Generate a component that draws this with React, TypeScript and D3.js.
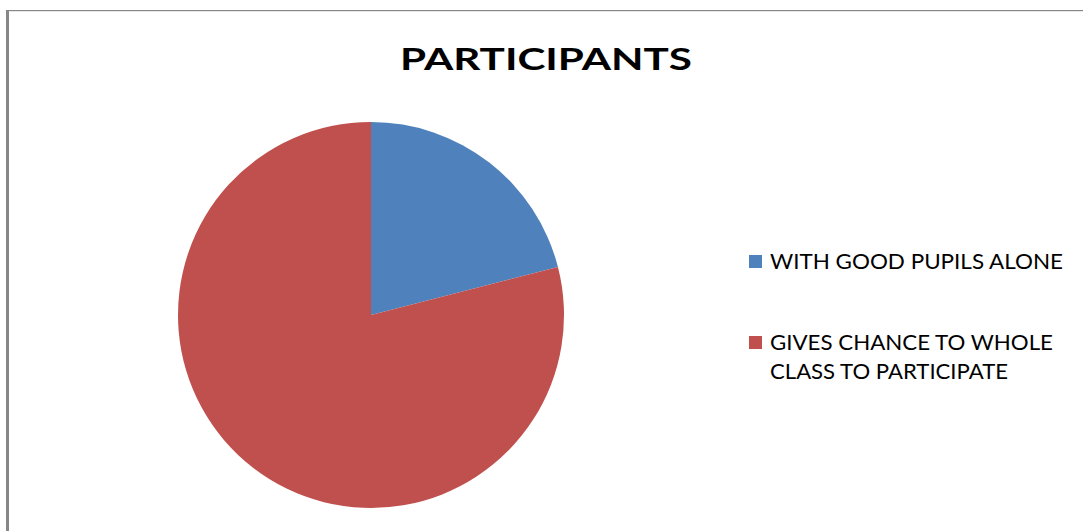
import React, { useEffect, useRef } from "react";
import * as d3 from "d3";

const categories = ["WITH GOOD PUPILS ALONE", "GIVES CHANCE TO WHOLE CLASS TO PARTICIPATE"];
const legendLines = [["WITH GOOD PUPILS ALONE"], ["GIVES CHANCE TO WHOLE", "CLASS TO PARTICIPATE"]];
const values = [21, 79];
const colors = ["#4F81BD", "#C0504D"];
const title = "PARTICIPANTS";

const App: React.FC = () => {
  const svgRef = useRef<SVGSVGElement>(null);
  const width = 1083;
  const height = 531;

  useEffect(() => {
    if (!svgRef.current) return;
    const svg = d3.select(svgRef.current);
    svg.selectAll("*").remove();

    const font = "Lato, 'Open Sans', sans-serif";

    // frame (only the left and top edges are visible in the source)
    svg.append("rect").attr("x", 6).attr("y", 10).attr("width", 3).attr("height", height - 10).attr("fill", "#878787");
    svg.append("rect").attr("x", 6).attr("y", 10).attr("width", width - 6).attr("height", 1.2).attr("fill", "#878787");

    // title
    svg
      .append("text")
      .attr("x", 400)
      .attr("y", 70)
      .attr("font-family", font)
      .attr("font-weight", "bold")
      .attr("font-size", 31)
      .attr("fill", "#000")
      .attr("textLength", 292)
      .attr("lengthAdjust", "spacingAndGlyphs")
      .text(title);

    // pie
    const cx = 371;
    const cy = 315;
    const r = 193;
    const pie = d3
      .pie<number>()
      .sort(null)
      .value((d) => d);
    const arc = d3.arc<d3.PieArcDatum<number>>().innerRadius(0).outerRadius(r);

    const g = svg.append("g").attr("transform", `translate(${cx},${cy})`);
    g.selectAll("path")
      .data(pie(values))
      .enter()
      .append("path")
      .attr("d", arc)
      .attr("fill", (_, i) => colors[i]);

    // legend
    const legendX = 749;
    const rowTops = [255, 336];
    const lineWidths = [[293], [283, 238]];
    categories.forEach((_, i) => {
      const item = svg.append("g");
      item
        .append("rect")
        .attr("x", legendX)
        .attr("y", rowTops[i])
        .attr("width", 13)
        .attr("height", 13)
        .attr("fill", colors[i]);
      legendLines[i].forEach((line, j) => {
        item
          .append("text")
          .attr("x", 770)
          .attr("y", rowTops[i] + 13.5 + j * 29)
          .attr("font-family", font)
          .attr("font-size", 22)
          .attr("fill", "#000")
          .attr("textLength", lineWidths[i][j])
          .attr("lengthAdjust", "spacingAndGlyphs")
          .text(line);
      });
    });
  }, []);

  return (
    <div style={{ position: "absolute", left: 0, top: 0, width, height, background: "#fff" }}>
      <svg ref={svgRef} width={width} height={height} style={{ display: "block" }} />
    </div>
  );
};

export default App;
